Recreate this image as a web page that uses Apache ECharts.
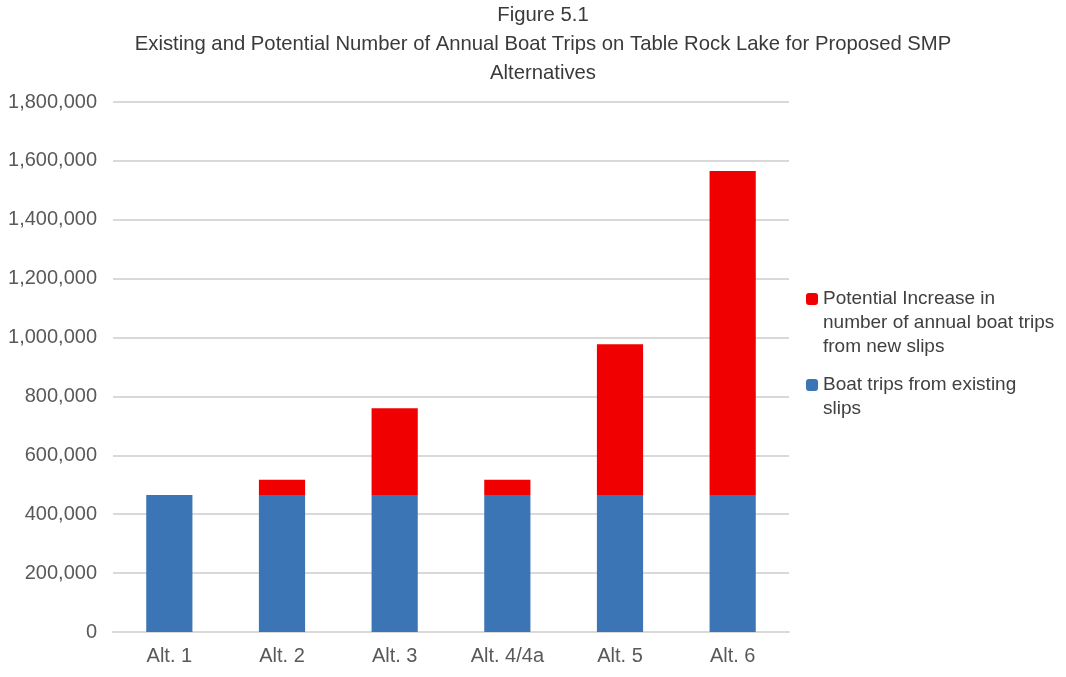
<!DOCTYPE html>
<html>
<head>
<meta charset="utf-8">
<title>Figure 5.1</title>
<script src="https://cdn.jsdelivr.net/npm/echarts@6/dist/echarts.min.js"></script>
<style>
  html, body { margin: 0; padding: 0; background: #fff; }
  #chart { width: 1066px; height: 677px; }
</style>
</head>
<body>
<div id="chart"></div>
<script>
// chart data
var alternatives = ['Alt. 1', 'Alt. 2', 'Alt. 3', 'Alt. 4/4a', 'Alt. 5', 'Alt. 6'];
var existingTrips = [465000, 465000, 465000, 465000, 465000, 465000];
var newSlipTrips = [0, 52000, 295000, 52000, 512000, 1101000];
var existingName = 'Boat trips from existing slips';
var newName = 'Potential Increase in number of annual boat trips from new slips';

// legend text is wrapped like the original
var legendLines = {};
legendLines[newName] = ['Potential Increase in', 'number of annual boat trips', 'from new slips'];
legendLines[existingName] = ['Boat trips from existing', 'slips'];

var font = '"Liberation Sans", Arial, sans-serif';

// pad with empty lines on top so the icon lines up with the first line
function legendText(name) {
    var lines = legendLines[name];
    var pad = [];
    for (var i = 1; i < lines.length; i++) pad.push('');
    return pad.concat(lines).join('\n');
}

function makeLegend(name, top) {
    return {
        orient: 'vertical',
        left: 801,
        top: top,
        itemWidth: 12,
        itemHeight: 12,
        formatter: legendText,
        textStyle: {
            fontFamily: font,
            fontSize: 19,
            lineHeight: 24,
            color: '#404040'
        },
        data: [name]
    };
}

var myChart = echarts.init(document.getElementById('chart'));

var option = {
    backgroundColor: '#fff',
    textStyle: { fontFamily: font },
    title: {
        text: 'Figure 5.1\nExisting and Potential Number of Annual Boat Trips on Table Rock Lake for Proposed SMP\nAlternatives',
        left: 543,
        top: 0,
        textAlign: 'center',
        padding: [1, 0, 0, 0],
        textStyle: {
            fontFamily: font,
            fontWeight: 'normal',
            fontSize: 20.3,
            lineHeight: 29,
            color: '#3a3a3a'
        }
    },
    legend: [
        makeLegend(newName, 234),
        makeLegend(existingName, 344)
    ],
    grid: {
        left: 113,
        right: 277,
        top: 102,
        bottom: 45,
        containLabel: false
    },
    xAxis: {
        type: 'category',
        data: alternatives,
        axisTick: { show: false },
        axisLine: { lineStyle: { color: '#d9d9d9', width: 2 } },
        axisLabel: { color: '#595959', fontSize: 20, margin: 14, fontFamily: font }
    },
    yAxis: {
        type: 'value',
        min: 0,
        max: 1800000,
        interval: 200000,
        axisLine: { show: false },
        axisTick: { show: false },
        axisLabel: {
            color: '#595959',
            fontSize: 20,
            margin: 16,
            fontFamily: font,
            formatter: function (v) { return v.toLocaleString('en-US'); }
        },
        splitLine: { lineStyle: { color: '#d9d9d9', width: 2 } }
    },
    series: [
        {
            name: existingName,
            type: 'bar',
            stack: 'trips',
            barWidth: '41%',
            itemStyle: { color: '#3c75b5' },
            data: existingTrips
        },
        {
            name: newName,
            type: 'bar',
            stack: 'trips',
            barWidth: '41%',
            itemStyle: { color: '#f00000' },
            data: newSlipTrips
        }
    ]
};

myChart.setOption(option);
</script>
</body>
</html>
